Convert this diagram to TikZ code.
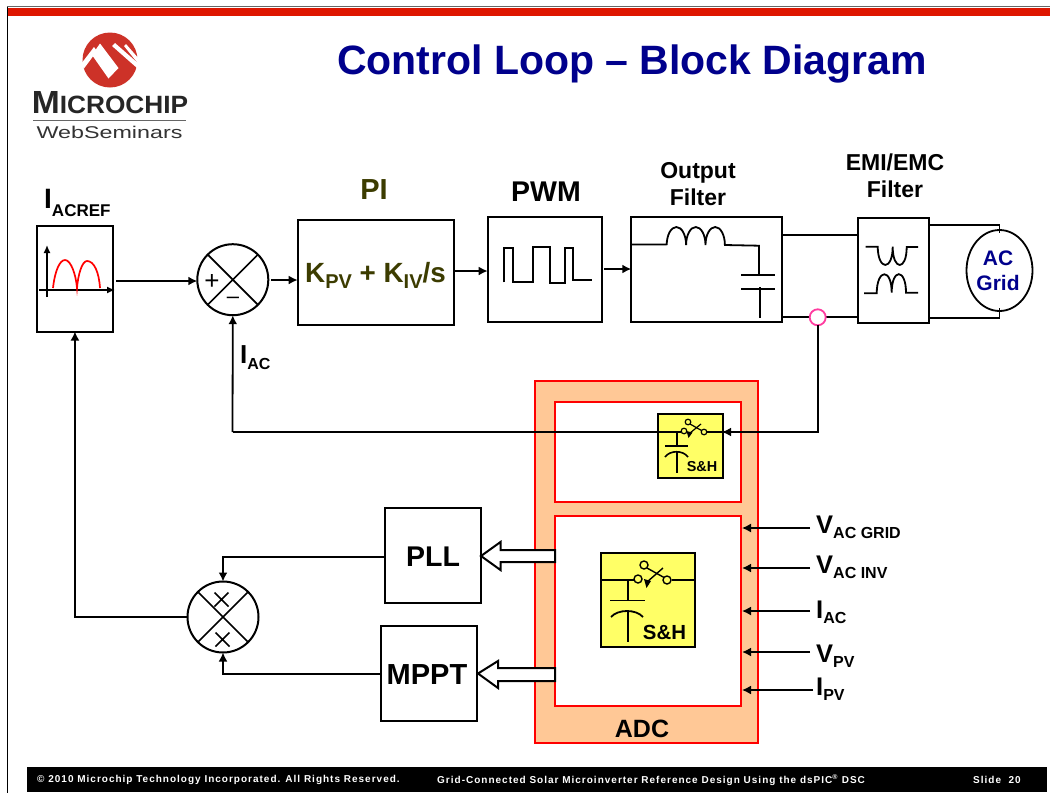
\documentclass[tikz,border=0pt]{standalone}
\usepackage{fontspec}
\setmainfont{Liberation Sans}
\newfontfamily\footf[LetterSpace=10]{Liberation Sans}
\usetikzlibrary{arrows.meta,shapes.geometric}
\definecolor{navy}{RGB}{0,0,140}
\definecolor{olive}{RGB}{60,60,0}
\definecolor{peach}{RGB}{255,200,150}
\definecolor{bar}{RGB}{222,22,0}
\definecolor{shy}{RGB}{255,255,102}
\definecolor{pinkc}{RGB}{255,60,160}
\definecolor{logored}{RGB}{205,50,40}
\tikzset{
 blk/.style={draw=black,line width=2pt,fill=white,inner sep=0,outer sep=0},
 wire/.style={draw=black,line width=1.8pt},
 arr/.style={wire,-{Latex[length=9pt,width=9pt]}},
 thinw/.style={draw=black,line width=1.8pt},
 lab/.style={font=\bfseries\fontsize{23}{27}\selectfont,inner sep=0,align=center},
 big/.style={font=\bfseries\fontsize{25.5}{27}\selectfont,inner sep=0,anchor=base west},
 redb/.style={draw=red,line width=2pt},
 hollow/.style={draw=black,line width=2pt,fill=white,line join=miter},
 foot/.style={font=\footf\bfseries\fontsize{10}{10}\selectfont,text=white,inner sep=0,anchor=west},
 sumc/.style={circle,draw=black,line width=2pt,minimum size=71pt,inner sep=0,outer sep=0},
}
\newcommand{\boxat}[6][white]{\node[blk,fill=#1,minimum width=#5pt,minimum height=#6pt,anchor=north west] (#2) at (#3,#4) {};}
\newcommand{\sbs}[3]{\raisebox{-#1pt}{\fontsize{#2}{#2}\selectfont #3}}
\begin{document}
\begin{tikzpicture}[x=1pt,y=-1pt]
\useasboundingbox (0,0) rectangle (1050,793);
\fill[white] (0,0) rectangle (1050,793);
% frame
\fill[bar] (8,7.7) rectangle (1050,15.7);
\draw[black!60,line width=1pt] (7.3,6.7) -- (1050,6.7);
\draw[black,line width=1pt] (7.3,6.7) -- (7.3,793);
\fill[black] (27,767) rectangle (1047,792);
% logo
\fill[logored] (110,60) circle (27.5);
\fill[white] (92,55) -- (100,43.5) -- (118.5,68) -- (108.5,78.5) -- cycle;
\fill[white] (81,64) -- (84,68.5) -- (97,51) -- (94,47) -- cycle;
\fill[white] (112,46) -- (115,43) -- (139,64) -- (137,68) -- cycle;
\fill[white] (124,46) -- (126,44) -- (140,60) -- (140,66) -- cycle;
\node[inner sep=0,anchor=base,text=black!85] (mc) at (110,113) {\scalebox{1.05}[1]{\bfseries\fontsize{32}{32}\selectfont M\fontsize{25}{25}\selectfont ICROCHIP}};
\draw[black!60,line width=1pt] (33,120.2) -- (186,120.2);
\node[inner sep=0,anchor=base,text=black!80] (ws) at (109.5,138) {\scalebox{1.37}[1]{\fontsize{17}{17}\selectfont WebSeminars}};
% title
\node[inner sep=0,font=\bfseries\fontsize{41}{41}\selectfont,text=navy] (title) at (632,64) {Control Loop – Block Diagram};
% IACREF
\node[big,font=\bfseries\fontsize{28}{28}\selectfont] (iaref) at (44,208) {I\sbs{8}{17}{ACREF}};
\boxat{ref}{36.7}{226}{76.5}{105.5}
\draw[thinw,line width=1.5pt,-{Latex[length=8pt,width=7pt]}] (47,297) -- (47,245);
\draw[thinw,line width=1.5pt,-{Latex[length=8pt,width=7pt]}] (39,290) -- (115,290);
\draw[red,line width=1.7pt] (53,288) .. controls (55,270) and (60,260) .. (65,260) .. controls (71,260) and (76,275) .. (77,288) .. controls (78,275) and (82,261) .. (87,261) .. controls (94,261) and (99,272) .. (100,288);
% sum
\node[sumc] (sum) at (232.8,279.7) {};
\draw[line width=1.7pt] (sum.45) -- (sum.225) (sum.135) -- (sum.315);
\node[inner sep=0,font=\fontsize{26}{26}\selectfont] (plus) at (212,282) {+};
\node[inner sep=0,font=\fontsize{22}{22}\selectfont] (minus) at (233,300) {–};
% PI
\node[lab,text=olive,font=\bfseries\fontsize{29}{29}\selectfont] (pil) at (374,190) {PI};
\boxat{pi}{297.7}{220}{156}{105}
\node[big,text=olive,font=\bfseries\fontsize{27.8}{27.8}\selectfont] (pit) at (305,282) {K\sbs{6}{20}{PV} + K\sbs{6}{20}{IV}/s};
% PWM
\node[lab,font=\bfseries\fontsize{28.5}{28.5}\selectfont] (pwml) at (546,192) {PWM};
\boxat{pwm}{487.7}{216.7}{114}{105.5}
\draw[thinw] (504,282.3) -- (504,248.3) -- (513.3,248.3) -- (513.3,281.7) -- (532.7,281.7) -- (532.7,246.7) -- (550,246.7) -- (550,282.7) -- (565,282.7) -- (565,247.7) -- (573.3,247.7) -- (573.3,280) -- (591.7,280);
% output filter
\node[lab] (ofl) at (698,184) {Output\\Filter};
\boxat{of}{631.3}{216.7}{150.4}{105}
\draw[thinw] (631.3,244.5) -- (666.7,244.5) -- (666.7,245) arc[start angle=180,delta angle=180,x radius=9.7,y radius=18] arc[start angle=180,delta angle=180,x radius=9.7,y radius=18] arc[start angle=180,delta angle=180,x radius=9.7,y radius=18] -- (759,245.7) -- (759,275);
\draw[thinw] (741,275) -- (775,275);
\draw[thinw] (741,289.3) -- (775,289.3);
\draw[thinw] (760,287) -- (760,317.7);
% EMI
\node[lab] (emil) at (895,176) {EMI/EMC\\Filter};
\boxat{emi}{858.3}{218}{71}{105}
\draw[thinw] (865.7,246.7) -- (877.7,246.7) .. controls (878,271) and (892.7,271) .. (892.7,246.7) .. controls (892.7,271) and (906.7,271) .. (906.7,247) -- (918,247);
\draw[thinw] (864,293.3) -- (876.7,293.3) .. controls (877,268) and (891.7,268) .. (891.7,292.7) .. controls (891.7,268) and (906,268) .. (906,292.7) -- (918,292.7);
% grid
\node[ellipse,draw=black,line width=1.8pt,minimum width=66pt,minimum height=81pt,inner sep=0,outer sep=0] (grid) at (999.5,270.5) {};
\node[inner sep=0,align=center,text=navy,font=\bfseries\fontsize{21}{25}\selectfont] (gridt) at (998,271) {AC\\Grid};
\draw[thinw,shorten >=-3pt] (emi.east |- 0,224.7) -| (grid.north);
\draw[thinw,shorten >=-3pt] (emi.east |- 0,318.3) -| (grid.south);
% top wires
\draw[thinw] (of.east |- 0,235.3) -- (emi.west |- 0,235.3);
\draw[thinw] (of.east |- 0,317) -- (emi.west |- 0,317);
% main arrows
\draw[arr] (116,281) -- (sum.west |- 0,281);
\draw[arr] (271,280) -- (pi.west |- 0,280);
\draw[arr] (pi.east |- 0,271) -- (pwm.west |- 0,271);
\draw[arr] (604,269) -- (of.west |- 0,269);
% adc
\fill[peach] (535,381) rectangle (758.3,743);
\draw[redb] (535,381) rectangle (758.3,743);
\draw[redb,fill=white] (555,401.7) rectangle (741,501.7);
\draw[redb,fill=white] (555,516.3) rectangle (741,705.7);
\node[lab,font=\bfseries\fontsize{25}{25}\selectfont] (adc) at (642,729) {ADC};
% feedback
\node[circle,draw=pinkc,line width=1.8pt,fill=white,minimum size=16pt,inner sep=0,outer sep=0] (tap) at (817.7,317.3) {};
\coordinate (fbl) at (232.5,432);
\draw[wire,shorten >=-1pt] (fbl) -- (660,432);
\draw[arr] (fbl) -- (sum.south);
\node[big,font=\bfseries\fontsize{26}{26}\selectfont] (iac) at (240,363) {I\sbs{6}{16}{AC}};
% small S&H
\boxat[shy]{sh1}{658}{414}{65}{64}
\draw[wire] (tap.south) |- (sh1.east |- 0,432);
\draw[wire,-{Latex[length=9pt,width=9pt]}] (740,432) -- (722,432);
\draw[line width=1.2pt] (658,432) -- (681,432) (677,432) -- (677,446);
\draw[line width=1.6pt] (665,446) -- (688,446);
\draw[line width=1.6pt] (665,457) .. controls (670,450) and (683,450) .. (688,457);
\draw[line width=1.3pt] (677,452) -- (677,473);
\draw[line width=1.2pt] (707,432) -- (723,432);
\draw[line width=1.2pt,fill=shy] (684,431) circle (2.8);
\draw[line width=1.2pt,fill=shy] (704,432) circle (2.8);
\draw[line width=1.2pt,fill=shy] (688,422) circle (2.8);
\draw[line width=1.2pt] (690,424) -- (701.5,430.5);
\draw[line width=1.2pt] (701,424) -- (690,433);
\fill (688.5,438) -- (686.5,431) -- (692.5,432.5) -- cycle;
\node[inner sep=0,font=\bfseries\fontsize{14.4}{14.4}\selectfont] (sh1t) at (702,467) {S\&H};
% large S&H
\boxat[shy]{sh2}{601}{553}{94}{94}
\draw[line width=1.4pt] (602,580) -- (634,580) (672,580) -- (694,580);
\draw[line width=1.4pt] (628,580) -- (628,600.5);
\draw[line width=1.8pt] (610,600.5) -- (645,600.5);
\draw[line width=1.8pt] (611,617) .. controls (618,609) and (636,609) .. (643,617);
\draw[line width=1.5pt] (628,611) -- (628,642);
\draw[line width=1.4pt,fill=shy] (638,579) circle (4);
\draw[line width=1.4pt,fill=shy] (644,565) circle (4);
\draw[line width=1.4pt,fill=shy] (667,580) circle (4);
\draw[line width=1.4pt] (647,568) -- (664,577.5);
\draw[line width=1.4pt] (663,568) -- (647,582);
\fill (646.5,588) -- (644,579) -- (651,581) -- cycle;
\node[inner sep=0,font=\bfseries\fontsize{20.4}{20.4}\selectfont] (sh2t) at (664.5,632) {S\&H};
% PLL / MPPT
\boxat{pll}{384.5}{508}{96.5}{95}
\node[lab,font=\bfseries\fontsize{28.5}{28.5}\selectfont] (pllt) at (433,557) {PLL};
\boxat{mppt}{380.5}{626}{96.5}{94.7}
\node[lab,font=\bfseries\fontsize{29}{29}\selectfont] (mpptt) at (427,675) {MPPT};
\draw[hollow] (481,556) -- (500.5,542) -- (500.5,550) -- (555,550) -- (555,562) -- (500.5,562) -- (500.5,570) -- cycle;
\draw[hollow] (478,673.5) -- (498,661) -- (498,668) -- (555,668) -- (555,681) -- (498,681) -- (498,688) -- cycle;
% mult
\node[sumc] (mul) at (223,617) {};
\draw[line width=1.7pt] (mul.45) -- (mul.225) (mul.135) -- (mul.315);
\draw[line width=1.5pt] (214.5,592.5) -- (228.5,606.5) (214.5,606.5) -- (228.5,592.5);
\draw[line width=1.5pt] (215.5,632.5) -- (229.5,646.5) (215.5,646.5) -- (229.5,632.5);
\draw[arr] (pll.west |- 0,557) -| (mul.north);
\draw[arr] (mppt.west |- 0,674) -| (mul.south);
\draw[arr] (mul.west) -| (ref.south);
% right inputs
\foreach \y/\n/\w/\s in {528/a/1.4/810,568/b/2/810,611/c/1.5/810,652/d/2/810,690/e/1.6/813}{
 \coordinate (in\n) at (\s,\y);
 \draw[draw=black,line width=\w pt,-{Latex[length=9pt,width=9pt]}] (in\n) -- (742,\y);
}
\node[big] (va) at (816,533) {V\sbs{5}{16}{AC GRID}};
\node[big] (vb) at (816,573) {V\sbs{5}{16}{AC INV}};
\node[big] (vc) at (816,618) {I\sbs{5}{16}{AC}};
\node[big] (vd) at (816,662) {V\sbs{5}{16}{PV}};
\node[big] (ve) at (816,695) {I\sbs{5}{16}{PV}};
% footer
\node[foot] (f1) at (37,780) {© 2010 Microchip Technology Incorporated. All Rights Reserved.};
\node[foot] (f2) at (437,780) {Grid-Connected Solar Microinverter Reference Design Using the dsPIC\textsuperscript{®} DSC};
\node[foot] (f3) at (973,780) {Slide\ \ 20};
\end{tikzpicture}
\end{document}
